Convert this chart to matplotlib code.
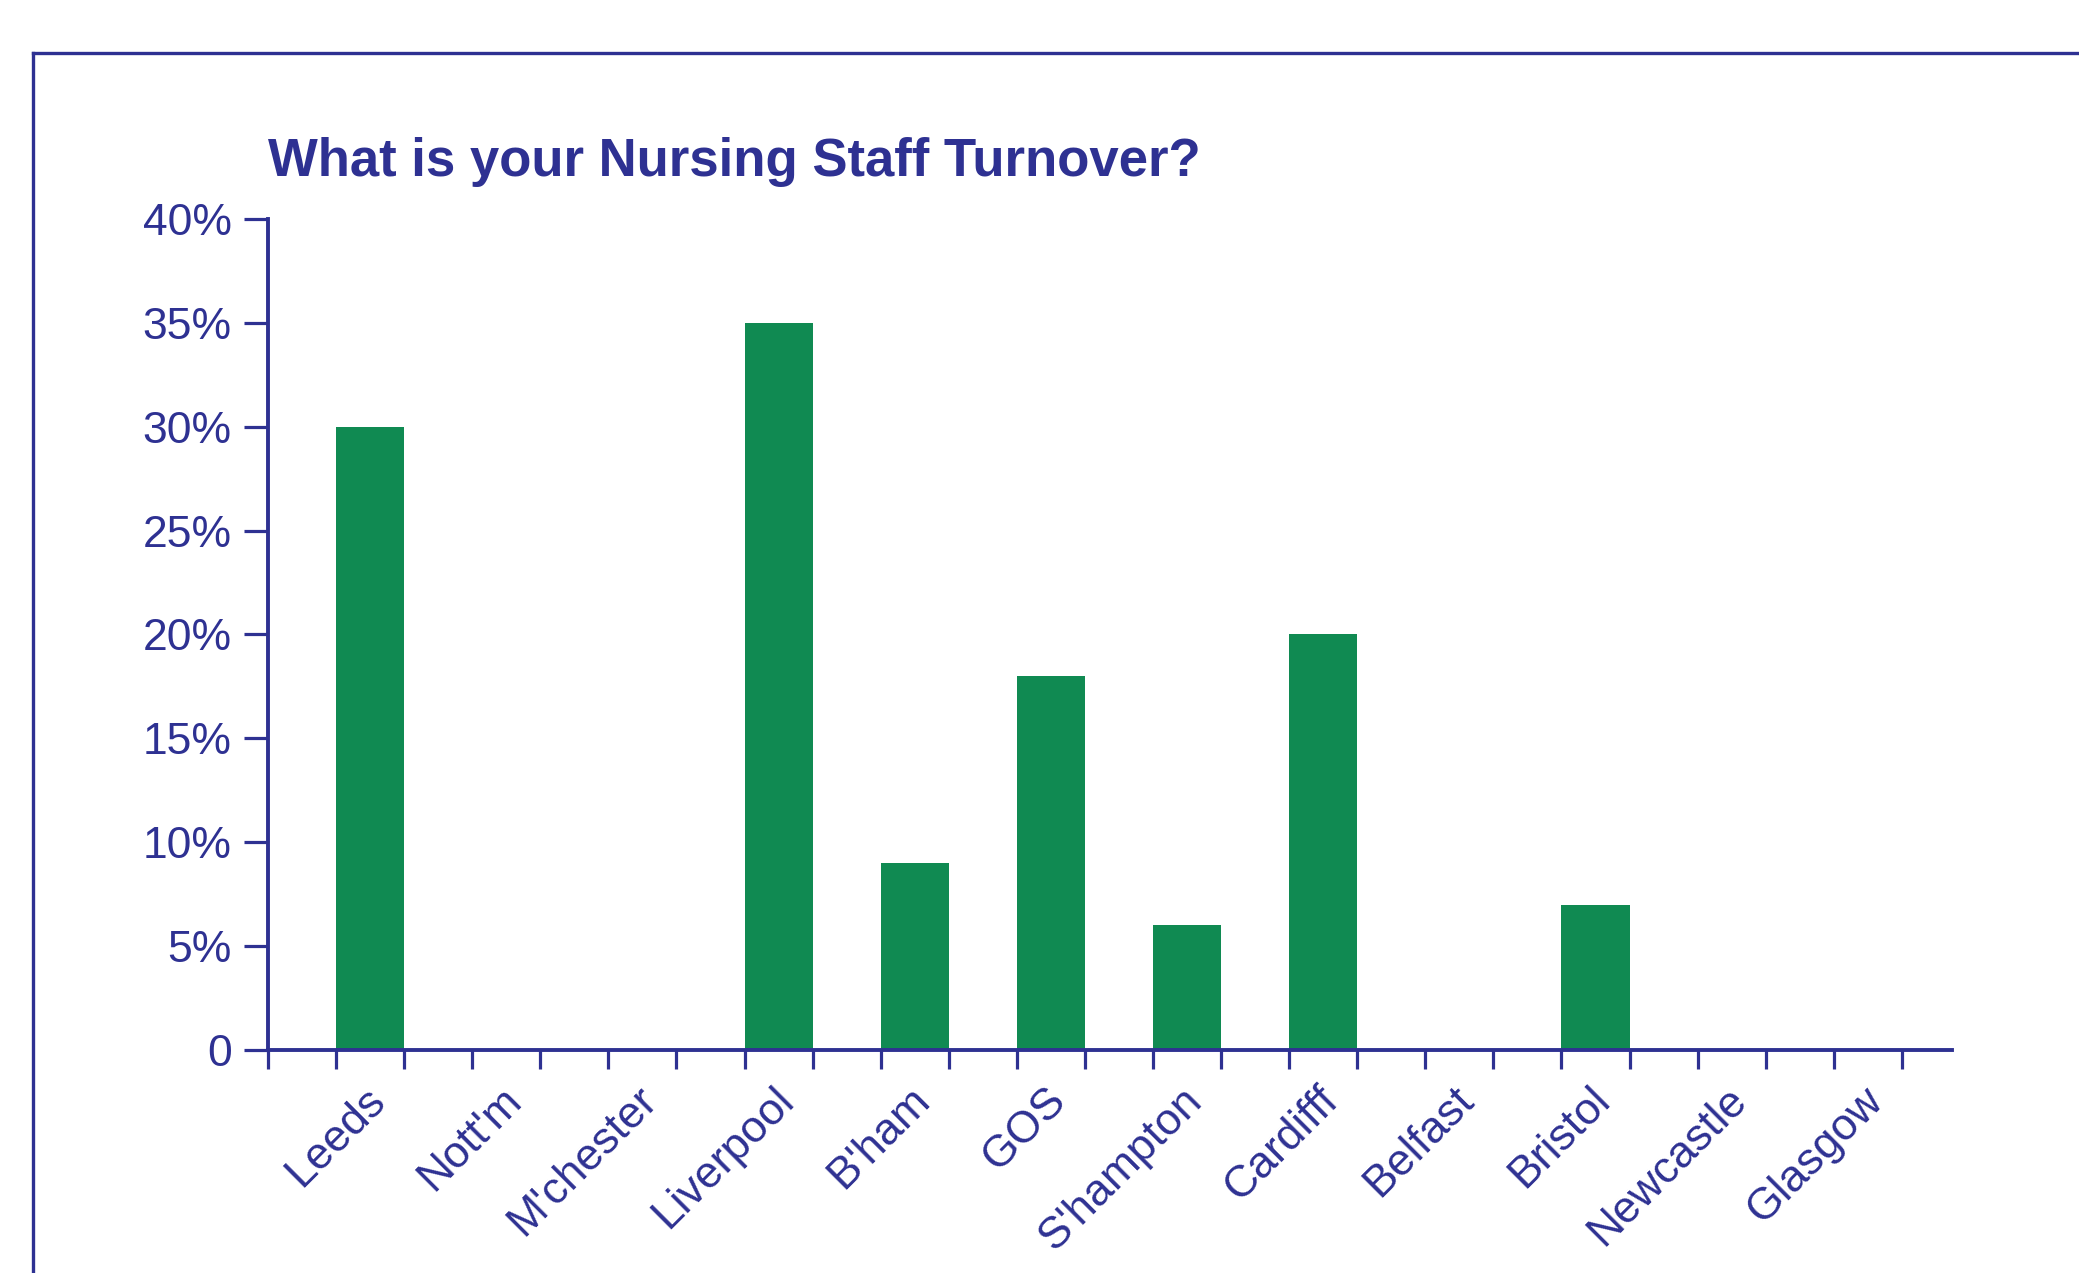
import numpy as np
import matplotlib
matplotlib.use('Agg')
from matplotlib import pyplot as plt
from matplotlib.lines import Line2D

# chart data
sites = ['Leeds', "Nott'm", "M'chester", 'Liverpool', "B'ham", 'GOS',
         "S'hampton", 'Cardifff', 'Belfast', 'Bristol', 'Newcastle', 'Glasgow']
turnover = [30, 0, 0, 35, 9, 18, 6, 20, 0, 7, 0, 0]
ytick_vals = [0, 5, 10, 15, 20, 25, 30, 35, 40]
ytick_labels = ['0', '5%', '10%', '15%', '20%', '25%', '30%', '35%', '40%']

BLUE = '#2E3192'
GREEN = '#108A52'

plt.rcParams['font.family'] = ['Liberation Sans', 'DejaVu Sans']

fig = plt.figure(figsize=(20.79, 12.73), dpi=100)
ax = fig.add_axes([0.1289, 0.1752, 0.939 - 0.1289, 0.828 - 0.1752])

x = np.arange(len(sites))
ax.bar(x, turnover, width=0.5, color=GREEN, zorder=2)

ax.set_ylim(0, 40)
ax.set_xlim(-0.75, 11.62)
ax.set_yticks(ytick_vals)
ax.set_yticklabels(ytick_labels)

# tick marks at bar edges, no labels there
edges = np.arange(-0.75, 11.3, 0.5)
ax.set_xticks(edges)
ax.set_xticklabels([])

for s in ['top', 'right']:
	ax.spines[s].set_visible(False)
for s in ['left', 'bottom']:
	ax.spines[s].set_color(BLUE)
	ax.spines[s].set_linewidth(2.8)

ax.tick_params(axis='y', colors=BLUE, length=17, width=2.3, pad=9, labelsize=32)
ax.tick_params(axis='x', colors=BLUE, length=14, width=2.3)

for i, name in enumerate(sites):
	ax.annotate(name, xy=(i + 0.17, 0), xycoords=('data', 'axes fraction'),
				xytext=(0, -21), textcoords='offset points',
				rotation=45, ha='right', va='top', fontsize=32, color=BLUE)

fig.text(268 / 2079, 1 - 176 / 1273, 'What is your Nursing Staff Turnover?',
		 fontsize=38, fontweight='bold', color=BLUE, ha='left', va='baseline')

# outer frame lines
fig.add_artist(Line2D([33 / 2079, 1.0], [1 - 53 / 1273, 1 - 53 / 1273],
					  color=BLUE, linewidth=2.4))
fig.add_artist(Line2D([33 / 2079, 33 / 2079], [0, 1 - 53 / 1273],
					  color=BLUE, linewidth=2.4))

fig.savefig('out.png', dpi=100)
